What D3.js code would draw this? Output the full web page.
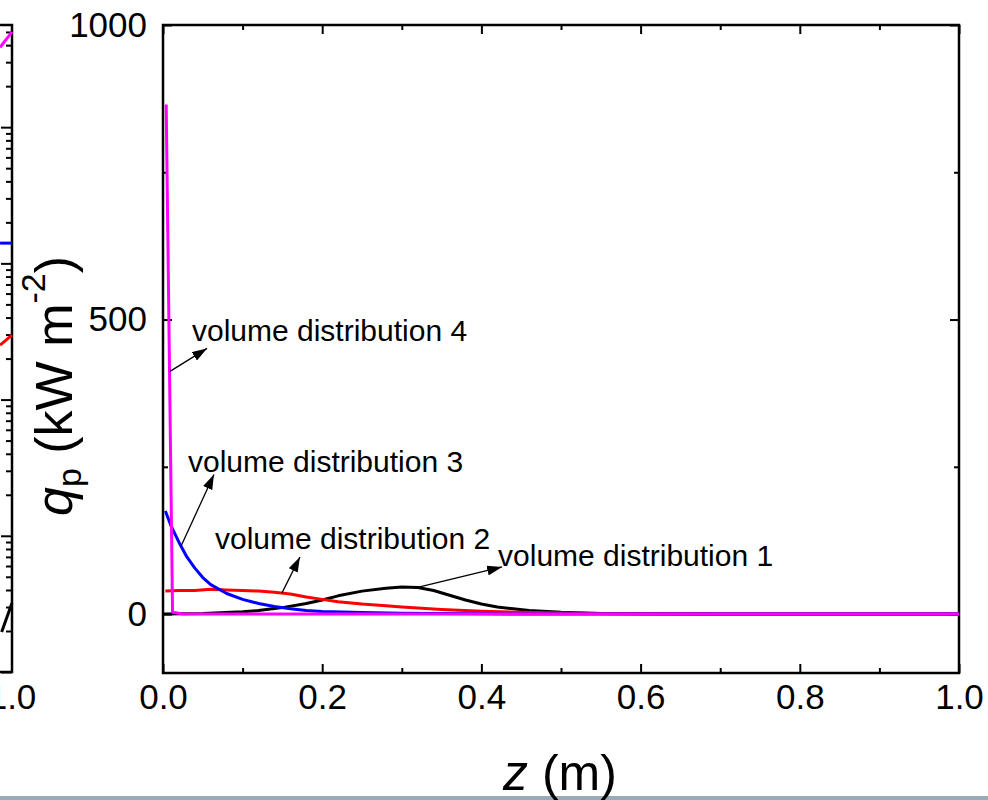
<!DOCTYPE html>
<html>
<head>
<meta charset="utf-8">
<script src="https://cdn.jsdelivr.net/npm/d3@7"></script>
<style>
  body { margin: 0; background: #fff; }
  text { font-family: "Liberation Sans", Arial, sans-serif; fill: #000; }
</style>
</head>
<body>
<div id="chart-area"></div>
<script>
// main panel data: z (m) and q_p (kW m^-2)
var zDist1 = [0, 0.05, 0.1, 0.12, 0.15, 0.18, 0.2, 0.22, 0.25, 0.28, 0.3, 0.32, 0.34, 0.36, 0.38, 0.4, 0.42, 0.44, 0.46, 0.5, 0.55, 0.6, 0.7, 0.8, 0.9, 1.0];
var qDist1 = [0, 1, 4, 6, 11, 18, 24, 31, 39, 44, 46, 45, 40, 32, 24, 17, 12, 9, 6, 3, 1, 0.5, 0, 0, 0, 0];

var zDist2 = [0.003, 0.02, 0.04, 0.06, 0.08, 0.1, 0.12, 0.14, 0.16, 0.18, 0.2, 0.22, 0.25, 0.28, 0.3, 0.35, 0.4, 0.45, 0.5, 0.55, 0.6, 0.7, 0.8, 0.9, 1.0];
var qDist2 = [39, 40, 40, 42, 41, 40, 39, 37, 34, 29, 25, 21, 17, 14, 12, 8, 5, 3, 2, 1, 0.5, 0, 0, 0, 0];

var zDist3 = [0.003, 0.01, 0.02, 0.03, 0.04, 0.05, 0.06, 0.08, 0.1, 0.12, 0.14, 0.16, 0.18, 0.2, 0.25, 0.3, 0.35, 0.4, 0.5, 0.6, 0.7, 0.8, 0.9, 1.0];
var qDist3 = [175, 150, 122, 97, 78, 62, 50, 35, 25, 18, 13, 9, 6, 4.5, 2.5, 1.5, 1, 0.5, 0, 0, 0, 0, 0, 0];

var zDist4 = [0.004, 0.012, 0.025, 0.2, 0.4, 0.6, 0.8, 1.0];
var qDist4 = [865, 3, 0, 0, 0, 0, 0, 0];

var seriesColors = ["#000000", "#ff0000", "#0000ff", "#ff00ff"];

var xMajor = [0, 0.2, 0.4, 0.6, 0.8, 1.0];
var xMinor = [0.1, 0.3, 0.5, 0.7, 0.9];
var yMajor = [0, 500, 1000];
var yMinor = [250, 750];

// annotations: label, text anchor (z, q), arrow start (z, q), arrow tip (z, q)
var noteLabels = ["volume distribution 4", "volume distribution 3", "volume distribution 2", "volume distribution 1"];
var noteText = [[0.0364, 463], [0.0314, 242], [0.0653, 110], [0.4209, 81]];
var noteFrom = [[0.0088, 412], [0.0226, 115], [0.1495, 36], [0.316, 44]];
var noteTo = [[0.0553, 451], [0.064, 237], [0.172, 97], [0.426, 80]];

// fragment of the neighbouring panel (log axis) cut at the left edge
var fragZ = [0.985, 1.0];
var fragBlackZ = [0.987, 1.0];
var fragMagenta = [38600, 50000];
var fragBlue = [1408, 1408];
var fragRed = [251, 297];
var fragBlack = [1.97, 3.21];

var margin = {top: 25, right: 29, bottom: 127, left: 163};
var width = 796;
var height = 648;

var svg = d3.select("#chart-area")
	.append("svg")
	.attr("width", 988)
	.attr("height", 800);

var g = svg.append("g")
	.attr("transform", "translate(" + margin.left + ", " + margin.top + ")");

var x = d3.scaleLinear().domain([0, 1]).range([0, width]);
var y = d3.scaleLinear().domain([-100, 1000]).range([height, 0]);

// axes, ticks pointing inward
function styleAxis(sel) {
	sel.select(".domain").remove();
	sel.selectAll("line").attr("stroke", "#000").attr("stroke-width", 2);
	sel.selectAll("text").attr("font-size", "35px").attr("font-family", "Liberation Sans, Arial, sans-serif");
}

g.append("g").attr("transform", "translate(0," + height + ")")
	.call(d3.axisBottom(x).tickValues(xMajor).tickSize(-9).tickPadding(11).tickFormat(d3.format(".1f")))
	.call(styleAxis);
g.append("g").attr("transform", "translate(0," + height + ")")
	.call(d3.axisBottom(x).tickValues(xMinor).tickSize(-5).tickFormat(""))
	.call(styleAxis);
g.append("g")
	.call(d3.axisTop(x).tickValues(xMajor).tickSize(-9).tickFormat(""))
	.call(styleAxis);
g.append("g")
	.call(d3.axisTop(x).tickValues(xMinor).tickSize(-5).tickFormat(""))
	.call(styleAxis);
g.append("g")
	.call(d3.axisLeft(y).tickValues(yMajor).tickSize(-9).tickPadding(16).tickFormat(d3.format("d")))
	.call(styleAxis);
g.append("g")
	.call(d3.axisLeft(y).tickValues(yMinor).tickSize(-5).tickFormat(""))
	.call(styleAxis);
g.append("g").attr("transform", "translate(" + width + ",0)")
	.call(d3.axisRight(y).tickValues(yMajor).tickSize(-9).tickFormat(""))
	.call(styleAxis);
g.append("g").attr("transform", "translate(" + width + ",0)")
	.call(d3.axisRight(y).tickValues(yMinor).tickSize(-5).tickFormat(""))
	.call(styleAxis);

g.append("rect")
	.attr("width", width)
	.attr("height", height)
	.attr("fill", "none")
	.attr("stroke", "#000")
	.attr("stroke-width", 2.5);

// series
var line = d3.line()
	.x((d) => { return x(d[0]); })
	.y((d) => { return y(d[1]); });

var series = [d3.zip(zDist1, qDist1), d3.zip(zDist2, qDist2), d3.zip(zDist3, qDist3), d3.zip(zDist4, qDist4)];

g.selectAll(".series").data(series)
	.enter()
	.append("path")
	.attr("class", "series")
	.attr("d", line)
	.attr("fill", "none")
	.attr("stroke", (d, i) => { return seriesColors[i]; })
	.attr("stroke-width", 3)
	.attr("stroke-linejoin", "round");

// annotation arrows
svg.append("defs").append("marker")
	.attr("id", "arrow")
	.attr("markerUnits", "userSpaceOnUse")
	.attr("markerWidth", 15)
	.attr("markerHeight", 10)
	.attr("refX", 15)
	.attr("refY", 5)
	.attr("orient", "auto")
	.append("path")
	.attr("d", "M0,0 L15,5 L0,10 Z")
	.attr("fill", "#000");

noteLabels.forEach((label, i) => {
	g.append("line")
		.attr("x1", x(noteFrom[i][0])).attr("y1", y(noteFrom[i][1]))
		.attr("x2", x(noteTo[i][0])).attr("y2", y(noteTo[i][1]))
		.attr("stroke", "#000")
		.attr("stroke-width", 1.3)
		.attr("marker-end", "url(#arrow)");
	g.append("text")
		.attr("x", x(noteText[i][0]))
		.attr("y", y(noteText[i][1]))
		.attr("font-size", "30px")
		.text(label);
});

// axis titles
var yTitle = svg.append("text")
	.attr("transform", "translate(72, 386) rotate(-90)")
	.attr("text-anchor", "middle")
	.attr("font-size", "52px");
yTitle.append("tspan").attr("font-style", "italic").text("q");
yTitle.append("tspan").attr("font-size", "34px").attr("dy", 9).text("p");
yTitle.append("tspan").attr("dy", -9).text(" (kW m");
yTitle.append("tspan").attr("font-size", "34px").attr("dy", -27).text("-2");
yTitle.append("tspan").attr("dy", 27).text(")");

var xTitle = svg.append("text")
	.attr("x", 503)
	.attr("y", 790)
	.attr("font-size", "50px");
xTitle.append("tspan").attr("font-style", "italic").text("z");
xTitle.append("tspan").text(" (m)");

// neighbouring panel fragment
var fx = d3.scaleLinear().domain([0, 1]).range([12 - width, 12]);
var fy = d3.scaleLog().domain([1, 56234]).range([672, 25]);

var logMajor = [1, 10, 100, 1000, 10000];
var logMinor = [];
[1, 10, 100, 1000, 10000].forEach((p) => {
	[2, 3, 4, 5, 6, 7, 8, 9].forEach((k) => { if (k * p < 56234) logMinor.push(k * p); });
});

var frag = svg.append("g");
frag.append("g").attr("transform", "translate(12,0)")
	.call(d3.axisRight(fy).tickValues(logMajor).tickSize(-11).tickFormat(""))
	.call(styleAxis);
frag.append("g").attr("transform", "translate(12,0)")
	.call(d3.axisRight(fy).tickValues(logMinor).tickSize(-6).tickFormat(""))
	.call(styleAxis);
frag.append("path")
	.attr("d", "M-10,25 H12 V672 H-10")
	.attr("fill", "none")
	.attr("stroke", "#000")
	.attr("stroke-width", 2.5);

var fline = d3.line()
	.x((d) => { return fx(d[0]); })
	.y((d) => { return fy(d[1]); });
var fragSeries = [d3.zip(fragBlackZ, fragBlack), d3.zip(fragZ, fragRed), d3.zip(fragZ, fragBlue), d3.zip(fragZ, fragMagenta)];
frag.selectAll(".fseries").data(fragSeries)
	.enter()
	.append("path")
	.attr("class", "fseries")
	.attr("d", fline)
	.attr("fill", "none")
	.attr("stroke", (d, i) => { return seriesColors[i]; })
	.attr("stroke-width", 3);

frag.append("text")
	.attr("x", fx(1.0))
	.attr("y", 709)
	.attr("text-anchor", "middle")
	.attr("font-size", "35px")
	.text("1.0");

// grey strip along the bottom edge
svg.append("rect")
	.attr("x", 0)
	.attr("y", 796)
	.attr("width", 988)
	.attr("height", 4)
	.attr("fill", "#9aabb8");
svg.node().appendChild(xTitle.node());
</script>
</body>
</html>
